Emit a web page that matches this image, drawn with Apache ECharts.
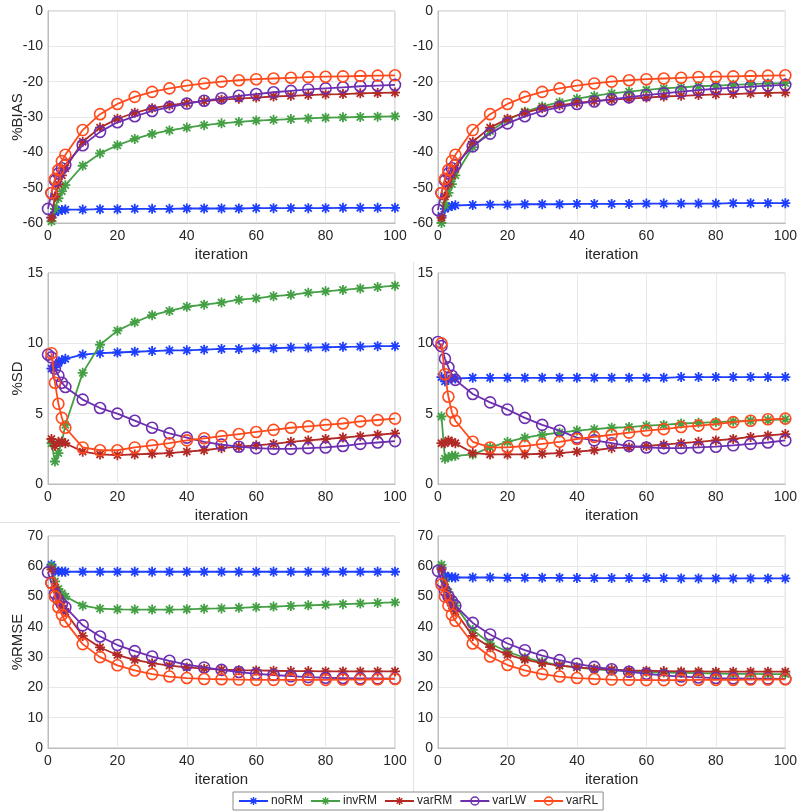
<!DOCTYPE html>
<html><head><meta charset="utf-8">
<script src="https://cdn.jsdelivr.net/npm/echarts@6/dist/echarts.min.js"></script>
<style>html,body{margin:0;padding:0;background:#fff}#c{width:800px;height:812px}</style>
</head><body><div id="c"></div>
<script>
// ---- x values (iterations) ----
const iters   = [1,2,3,4,5,10,15,20,25,30,35,40,45,50,55,60,65,70,75,80,85,90,95,100];
const itersLW = [0,1,2,3,4,5,10,15,20,25,30,35,40,45,50,55,60,65,70,75,80,85,90,95,100];

// ---- %BIAS left ----
const biasL_noRM  = [-58.5,-57,-56.5,-56.3,-56.2,-56.2,-56.1,-56.1,-56.0,-56.0,-56.0,-55.9,-55.9,-55.9,-55.9,-55.8,-55.8,-55.8,-55.8,-55.8,-55.7,-55.7,-55.7,-55.7];
const biasL_invRM = [-59.5,-56,-53,-51,-49.3,-43.8,-40.3,-38,-36.2,-34.8,-33.8,-33,-32.3,-31.8,-31.4,-31,-30.8,-30.6,-30.4,-30.2,-30.1,-30,-29.9,-29.8];
const biasL_varRM = [-58.5,-52.5,-49,-46.5,-44.5,-37,-33,-30.5,-28.8,-27.5,-26.7,-26,-25.5,-25.1,-24.8,-24.5,-24.2,-24,-23.8,-23.6,-23.5,-23.3,-23.2,-23.1];
const biasL_varLW = [-56,-51.5,-48,-46,-44.5,-43.5,-38,-34.2,-31.5,-29.8,-28.3,-27.2,-26.2,-25.4,-24.7,-24,-23.5,-23,-22.6,-22.2,-21.9,-21.6,-21.3,-21.1,-20.9];
const biasL_varRL = [-51.5,-47.5,-45,-42.5,-40.7,-33.7,-29.2,-26.3,-24.3,-22.9,-21.9,-21.1,-20.5,-20,-19.6,-19.3,-19.1,-18.9,-18.7,-18.6,-18.5,-18.4,-18.3,-18.2];
// ---- %BIAS right ----
const biasR_noRM  = [-58,-56,-55.5,-55.2,-55,-54.9,-54.8,-54.8,-54.7,-54.7,-54.7,-54.6,-54.6,-54.6,-54.6,-54.5,-54.5,-54.5,-54.5,-54.5,-54.4,-54.4,-54.4,-54.4];
const biasR_invRM = [-60,-55,-51.5,-49,-46.5,-38.5,-34,-30.8,-28.5,-27,-25.8,-24.8,-24,-23.3,-22.8,-22.3,-21.9,-21.6,-21.3,-21.1,-20.9,-20.7,-20.5,-20.4];
const biasR_varRM = [-58.5,-52.5,-49,-46.5,-44.5,-37,-33,-30.5,-28.8,-27.5,-26.7,-26,-25.5,-25.1,-24.8,-24.5,-24.2,-24,-23.8,-23.6,-23.5,-23.3,-23.2,-23.1];
const biasR_varLW = [-56.3,-51.5,-48,-46,-44.5,-43.5,-38.3,-34.7,-31.8,-29.8,-28.3,-27.2,-26.3,-25.6,-25,-24.4,-23.8,-23.3,-22.8,-22.4,-22,-21.7,-21.4,-21.1,-20.9];
const biasR_varRL = [-51.5,-47.5,-45,-42.5,-40.7,-33.7,-29.2,-26.3,-24.3,-22.9,-21.9,-21.1,-20.5,-20,-19.6,-19.3,-19.1,-18.9,-18.7,-18.6,-18.5,-18.4,-18.3,-18.2];
// ---- %SD left ----
const sdL_noRM  = [8.2,8.3,8.6,8.8,8.9,9.2,9.3,9.35,9.4,9.45,9.5,9.5,9.55,9.6,9.6,9.65,9.65,9.7,9.7,9.72,9.75,9.77,9.8,9.8];
const sdL_invRM = [2.9,1.6,2.2,3.0,4.2,7.9,9.9,10.9,11.5,12.0,12.3,12.6,12.75,12.9,13.1,13.2,13.35,13.45,13.6,13.7,13.8,13.9,14.0,14.1];
const sdL_varRM = [3.2,2.7,3.0,3.0,2.9,2.3,2.1,2.05,2.1,2.15,2.2,2.3,2.4,2.55,2.65,2.75,2.85,3.0,3.1,3.2,3.3,3.4,3.5,3.6];
const sdL_varLW = [9.2,9.0,8.2,7.7,7.2,6.9,6.0,5.4,5.0,4.5,4.0,3.6,3.3,3.0,2.8,2.65,2.55,2.5,2.5,2.55,2.6,2.7,2.85,2.95,3.05];
const sdL_varRL = [9.3,7.2,5.7,4.7,4.0,2.6,2.4,2.4,2.6,2.75,2.9,3.1,3.25,3.4,3.55,3.7,3.85,4.0,4.1,4.2,4.3,4.45,4.55,4.65];
// ---- %SD right ----
const sdR_noRM  = [7.6,7.3,7.4,7.5,7.5,7.55,7.55,7.55,7.55,7.55,7.55,7.55,7.55,7.55,7.55,7.55,7.55,7.6,7.6,7.6,7.6,7.6,7.6,7.6];
const sdR_invRM = [4.8,1.8,1.9,2.0,2.0,2.1,2.6,3.0,3.3,3.5,3.65,3.8,3.9,4.0,4.05,4.15,4.2,4.3,4.35,4.4,4.45,4.5,4.55,4.6];
const sdR_varRM = [2.9,2.9,3.1,3.0,2.9,2.2,2.1,2.1,2.1,2.15,2.2,2.3,2.4,2.55,2.6,2.7,2.8,2.9,3.0,3.1,3.2,3.35,3.45,3.55];
const sdR_varLW = [10.1,9.8,8.9,8.3,7.7,7.4,6.4,5.8,5.3,4.7,4.2,3.8,3.3,3.1,2.9,2.7,2.6,2.55,2.55,2.6,2.65,2.75,2.85,2.95,3.1];
const sdR_varRL = [10.0,7.8,6.2,5.1,4.5,3.0,2.6,2.6,2.7,2.85,3.0,3.2,3.35,3.5,3.65,3.8,3.9,4.05,4.15,4.25,4.4,4.5,4.6,4.65];
// ---- %RMSE left ----
const rmseL_noRM  = [60.5,58.5,58.3,58.2,58.2,58.2,58.2,58.2,58.2,58.2,58.2,58.2,58.2,58.2,58.2,58.2,58.2,58.2,58.2,58.2,58.2,58.2,58.2,58.2];
const rmseL_invRM = [60,55,52.5,51,50,47,46,45.8,45.7,45.7,45.7,45.8,46,46.1,46.3,46.5,46.7,46.9,47.1,47.3,47.5,47.7,47.9,48.1];
const rmseL_varRM = [59,53,49.5,47,45,37,33.2,30.7,29.1,28,27.2,26.6,26.2,25.9,25.7,25.6,25.5,25.4,25.4,25.3,25.3,25.3,25.3,25.3];
const rmseL_varLW = [58,54.5,51,49,47.5,46.5,40.5,36.8,34,32,30.2,28.8,27.5,26.6,25.8,25.1,24.5,24.1,23.7,23.4,23.2,23.1,23,23,22.9];
const rmseL_varRL = [54.5,50,46.5,44,41.8,34.3,30,27.3,25.6,24.4,23.6,23.1,22.8,22.7,22.6,22.5,22.5,22.5,22.5,22.5,22.6,22.6,22.7,22.8];
// ---- %RMSE right ----
const rmseR_noRM  = [59.5,57,56.5,56.4,56.3,56.3,56.3,56.2,56.2,56.2,56.2,56.1,56.1,56.1,56.1,56.1,56.1,56.0,56.0,56.0,56.0,56.0,56.0,56.0];
const rmseR_invRM = [60.5,55,51.5,49,47,39,34.5,31.8,29.8,28.4,27.3,26.6,26,25.6,25.3,25.1,24.9,24.8,24.7,24.6,24.5,24.5,24.4,24.4];
const rmseR_varRM = [59,53,49.5,47,45,37,33.3,30.8,29.2,28,27.2,26.6,26.2,25.9,25.6,25.5,25.4,25.3,25.3,25.2,25.2,25.2,25.2,25.2];
const rmseR_varLW = [58.5,55,52,50,48.5,47,41.3,37.5,34.5,32.3,30.5,29,27.8,26.8,26,25.2,24.5,24,23.6,23.3,23.1,23,22.9,22.9,22.8];
const rmseR_varRL = [54,50,47,44,42,34.5,30.2,27.4,25.6,24.4,23.6,23.1,22.8,22.6,22.5,22.4,22.4,22.4,22.5,22.5,22.5,22.6,22.6,22.7];

const seriesNames = ['noRM','invRM','varRM','varLW','varRL'];
const xTicks = {min:0, max:100, interval:20};
const yLabels = ['%BIAS','%SD','%RMSE'];
const yRanges = [{min:-60,max:0,interval:10},{min:0,max:15,interval:5},{min:0,max:70,interval:10}];

// ---- styling (not data) ----
const colors = {noRM:'#1f3fff', invRM:'#45a045', varRM:'#b22a26', varLW:'#6d2fb0', varRL:'#ff4a1c'};
const STAR = 'path://M-10,-1.8L10,-1.8L10,1.8L-10,1.8Z M1.8,-10L1.8,10L-1.8,10L-1.8,-10Z M-5.80,-8.35L8.35,5.80L5.80,8.35L-8.35,-5.80Z M-8.35,5.80L5.80,-8.35L8.35,-5.80L-5.80,8.35Z';
const FONT = '"Liberation Sans", Arial, sans-serif';

const panels = [
  {row:0, col:0, d:[biasL_noRM,biasL_invRM,biasL_varRM,biasL_varLW,biasL_varRL]},
  {row:0, col:1, d:[biasR_noRM,biasR_invRM,biasR_varRM,biasR_varLW,biasR_varRL]},
  {row:1, col:0, d:[sdL_noRM,sdL_invRM,sdL_varRM,sdL_varLW,sdL_varRL]},
  {row:1, col:1, d:[sdR_noRM,sdR_invRM,sdR_varRM,sdR_varLW,sdR_varRL]},
  {row:2, col:0, d:[rmseL_noRM,rmseL_invRM,rmseL_varRM,rmseL_varLW,rmseL_varRL]},
  {row:2, col:1, d:[rmseR_noRM,rmseR_invRM,rmseR_varRM,rmseR_varLW,rmseR_varRL]}
];
const gridTops = [11, 273, 536];
const gridHeights = [212, 211, 212];
const gridLefts = [48, 438];
const gridWidths = [347, 348];

const grid = [], xAxis = [], yAxis = [], series = [];
panels.forEach((p, i) => {
  grid.push({left:gridLefts[p.col], top:gridTops[p.row], width:gridWidths[p.col], height:gridHeights[p.row],
    show:true, borderColor:'#bdbdbd', borderWidth:1, backgroundColor:'transparent'});
  xAxis.push({type:'value', gridIndex:i, min:xTicks.min, max:xTicks.max, interval:xTicks.interval,
    name:'iteration', nameLocation:'middle', nameGap:24, nameMoveOverlap:false,
    nameTextStyle:{fontSize:15, color:'#262626', fontFamily:FONT},
    axisLine:{show:true, onZero:false, lineStyle:{color:'#bdbdbd'}}, axisTick:{show:false},
    axisLabel:{fontSize:14, color:'#262626', margin:6, fontFamily:FONT},
    splitLine:{show:true, lineStyle:{color:'#e8e8e8', width:1}}});
  const yr = yRanges[p.row];
  yAxis.push({type:'value', gridIndex:i, min:yr.min, max:yr.max, interval:yr.interval,
    name: p.col===0 ? yLabels[p.row] : '', nameLocation:'middle', nameGap:23, nameRotate:90, nameMoveOverlap:false,
    nameTextStyle:{fontSize:15, color:'#262626', fontFamily:FONT},
    axisLine:{show:true, lineStyle:{color:'#bdbdbd'}}, axisTick:{show:false},
    axisLabel:{fontSize:14, color:'#262626', margin:5, fontFamily:FONT},
    splitLine:{show:true, lineStyle:{color:'#e8e8e8', width:1}}});
  seriesNames.forEach((nm, k) => {
    const xs = (nm === 'varLW') ? itersLW : iters;
    const ys = p.d[k];
    const isCircle = (nm === 'varLW' || nm === 'varRL');
    series.push({
      name:nm, type:'line', xAxisIndex:i, yAxisIndex:i,
      data: xs.map((x, j) => [x, ys[j]]),
      symbol: isCircle ? 'circle' : STAR,
      symbolSize: isCircle ? 11 : 10,
      showAllSymbol:true,
      lineStyle:{color:colors[nm], width:1.8},
      itemStyle: isCircle ? {color:'rgba(255,255,255,0)', borderColor:colors[nm], borderWidth:1.6}
                          : {color:colors[nm], borderWidth:0},
      emphasis:{disabled:true}, animation:false, z: 2 + k
    });
  });
});

const chart = echarts.init(document.getElementById('c'), null, {renderer:'canvas'});
chart.setOption({
  animation:false,
  backgroundColor:'#ffffff',
  textStyle:{fontFamily:FONT},
  grid, xAxis, yAxis, series,
  legend:{
    data: seriesNames.map(n => ({name:n, itemStyle: (n==='varLW'||n==='varRL') ? {color:'rgba(255,255,255,0)', borderColor:colors[n], borderWidth:1.5} : {color:colors[n]}})),
    left:233, top:792, orient:'horizontal',
    itemWidth:29, itemHeight:10, itemGap:7,
    padding:[3,5,3,5],
    borderColor:'#8c8c8c', borderWidth:1, backgroundColor:'#fff',
    textStyle:{fontSize:12, color:'#262626', fontFamily:FONT, padding:[0,0,0,-2]},
    selectedMode:false
  },
  graphic:[
    {type:'line', shape:{x1:0, y1:522.5, x2:400, y2:522.5}, style:{stroke:'#e2e2e2', lineWidth:1}, silent:true},
    {type:'line', shape:{x1:413.5, y1:262, x2:413.5, y2:800}, style:{stroke:'#e2e2e2', lineWidth:1}, silent:true}
  ]
});
</script>
</body></html>
